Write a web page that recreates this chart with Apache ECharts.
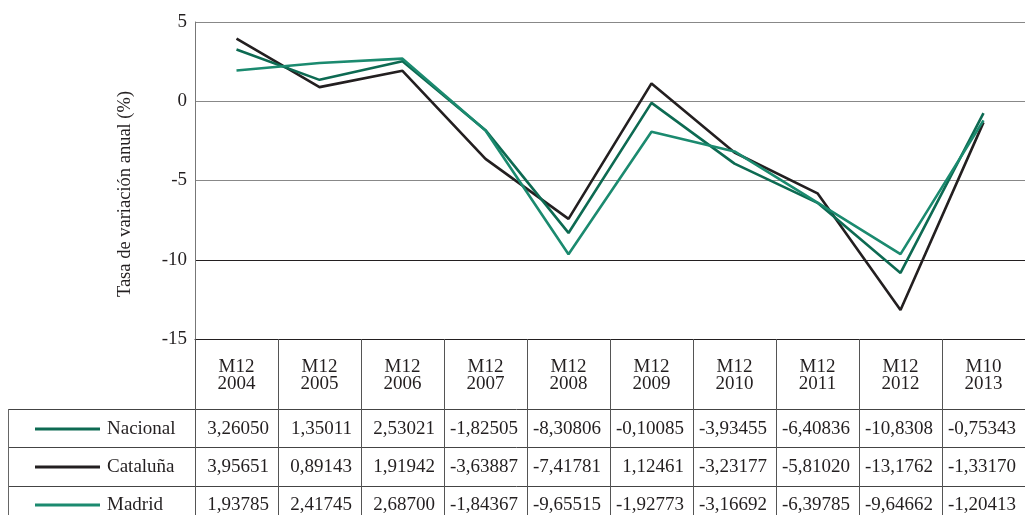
<!DOCTYPE html>
<html>
<head>
<meta charset="utf-8">
<script src="https://cdn.jsdelivr.net/npm/echarts@6/dist/echarts.min.js"></script>
<style>
  html, body { margin: 0; padding: 0; background: #fff; }
  #chart { width: 1025px; height: 515px; }
</style>
</head>
<body>
<div id="chart"></div>
<script>
// periodos y series (tasa de variación anual, %)
const periodos = ['M12\n2004', 'M12\n2005', 'M12\n2006', 'M12\n2007', 'M12\n2008',
                  'M12\n2009', 'M12\n2010', 'M12\n2011', 'M12\n2012', 'M10\n2013'];
const nacional = [3.26050, 1.35011, 2.53021, -1.82505, -8.30806, -0.10085, -3.93455, -6.40836, -10.8308, -0.75343];
const cataluna = [3.95651, 0.89143, 1.91942, -3.63887, -7.41781, 1.12461, -3.23177, -5.81020, -13.1762, -1.33170];
const madrid   = [1.93785, 2.41745, 2.68700, -1.84367, -9.65515, -1.92773, -3.16692, -6.39785, -9.64662, -1.20413];
const nombres = ['Nacional', 'Cataluña', 'Madrid'];
const colores = ['#0d6a52', '#231f20', '#1b8a6f'];

const FONT = '"Liberation Serif", "DejaVu Serif", serif';
const GL = 195, GR = 0, GT = 22, GB = 176;
const W = 1025;
const colW = (W - GL - GR) / periodos.length;

// formato de la tabla: coma decimal, 5 decimales (6 cifras si |v|>=10)
function fmt(v) {
  const d = Math.abs(v) >= 10 ? 4 : 5;
  return v.toFixed(d).replace('.', ',');
}

function tabla() {
  const els = [];
  const filas = [409, 447, 486];
  filas.forEach(y => {
    els.push({ type: 'line', shape: { x1: 8, y1: y + 0.5, x2: W, y2: y + 0.5 },
      style: { stroke: '#444', lineWidth: 1 } });
  });
  els.push({ type: 'line', shape: { x1: 8.5, y1: 409, x2: 8.5, y2: 515 },
    style: { stroke: '#666', lineWidth: 1 } });
  const series = [nacional, cataluna, madrid];
  const centros = [429, 467, 505];
  series.forEach((s, r) => {
    const y = centros[r];
    els.push({ type: 'line', shape: { x1: 35, y1: y, x2: 100, y2: y },
      style: { stroke: colores[r], lineWidth: 3 } });
    els.push({ type: 'text', x: 107, y: y,
      style: { text: nombres[r], fill: '#231f20', font: '19px ' + FONT, align: 'left', verticalAlign: 'middle' } });
    s.forEach((v, i) => {
      els.push({ type: 'text', x: GL + colW * (i + 1) - 9, y: y,
        style: { text: fmt(v), fill: '#231f20', font: '19px ' + FONT, align: 'right', verticalAlign: 'middle' } });
    });
  });
  els.push({ type: 'text', x: 125, y: 194, rotation: Math.PI / 2,
    style: { text: 'Tasa de variación anual (%)', fill: '#231f20', font: '18.5px ' + FONT,
      align: 'center', verticalAlign: 'middle' } });
  return els;
}

const option = {
  backgroundColor: '#fff',
  animation: false,
  grid: { left: GL, right: GR, top: GT, bottom: GB },
  xAxis: {
    type: 'category',
    data: periodos,
    boundaryGap: true,
    axisLine: { show: true, onZero: false, lineStyle: { color: '#231f20', width: 1 } },
    axisTick: { show: true, length: 176, lineStyle: { color: '#555', width: 1 } },
    axisLabel: { color: '#231f20', fontFamily: FONT, fontSize: 19, lineHeight: 17, margin: 20 },
    splitLine: { show: false }
  },
  yAxis: {
    type: 'value',
    min: -15, max: 5, interval: 5,
    axisLine: { show: true, lineStyle: { color: '#777', width: 1 } },
    axisTick: { show: false },
    axisLabel: { color: '#231f20', fontFamily: FONT, fontSize: 19, margin: 8 },
    splitLine: { show: true, lineStyle: { color: ['#231f20', '#231f20', '#888', '#888', '#888'], width: 1 } }
  },
  series: [
    { name: nombres[0], type: 'line', data: nacional, showSymbol: false, symbol: 'none',
      lineStyle: { color: colores[0], width: 2.6 }, z: 3 },
    { name: nombres[1], type: 'line', data: cataluna, showSymbol: false, symbol: 'none',
      lineStyle: { color: colores[1], width: 2.6 }, z: 2 },
    { name: nombres[2], type: 'line', data: madrid, showSymbol: false, symbol: 'none',
      lineStyle: { color: colores[2], width: 2.6 }, z: 4 }
  ],
  graphic: tabla()
};

const chart = echarts.init(document.getElementById('chart'));
chart.setOption(option);
</script>
</body>
</html>
